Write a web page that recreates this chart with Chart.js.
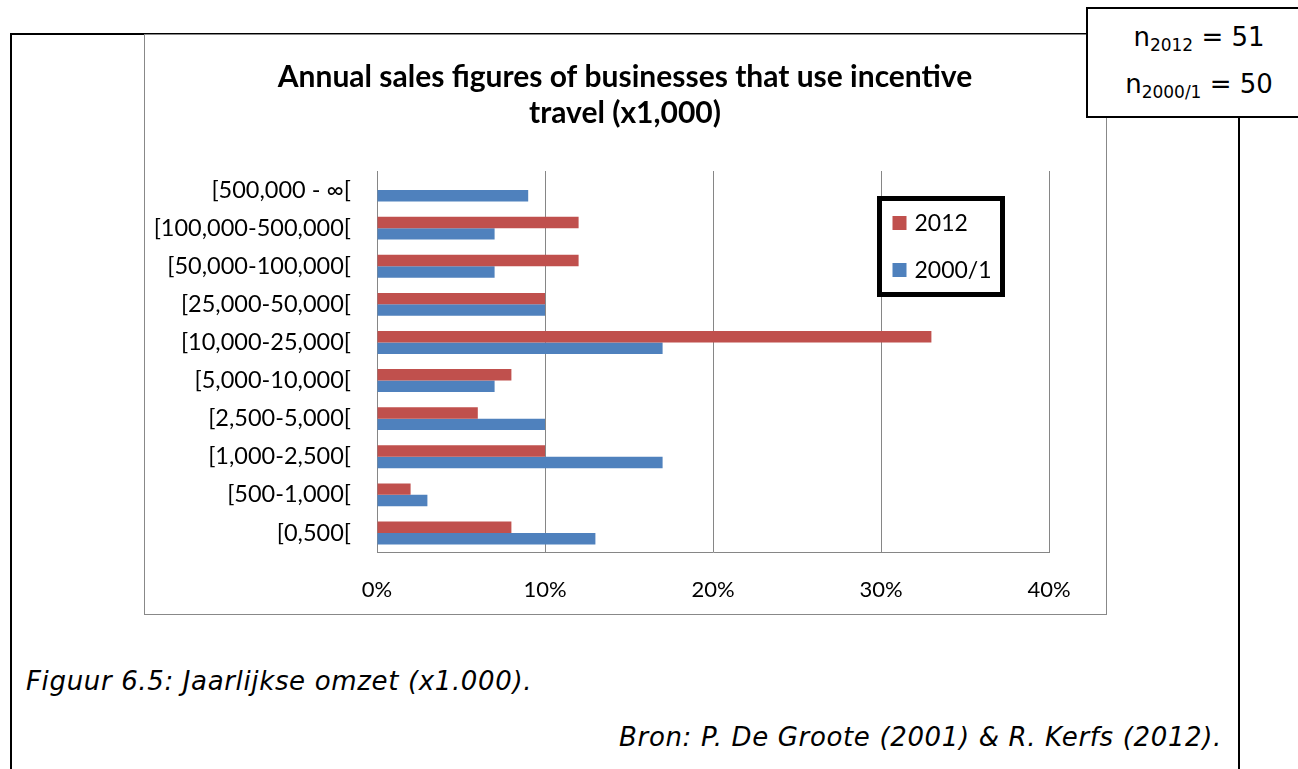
<!DOCTYPE html>
<html lang="en">
<head>
    <meta charset="UTF-8">
    <title>Annual sales figures</title>
    <script src="https://cdn.jsdelivr.net/npm/chart.js"></script>
    <style>
        body {
            margin: 0;
            width: 1298px;
            height: 769px;
            overflow: hidden;
            background: #fff;
            position: relative;
            font-family: 'DejaVu Sans', Verdana, sans-serif;
        }
        .frame {
            position: absolute;
            left: 10px;
            top: 33px;
            width: 1230px;
            height: 800px;
            border: 2px solid #000;
            box-sizing: border-box;
        }
        .chart-box {
            position: absolute;
            left: 144px;
            top: 34px;
            width: 963px;
            height: 581px;
            border: 1.5px solid #888;
            box-sizing: border-box;
            background: #fff;
        }
        .chart-box canvas {
            position: absolute;
            left: 0;
            top: 0;
        }
        .nbox {
            position: absolute;
            left: 1086px;
            top: 7px;
            width: 230px;
            height: 111px;
            border: 2px solid #000;
            box-sizing: border-box;
            background: #fff;
            font-size: 26px;
            color: #000;
        }
        .nbox div {
            position: absolute;
            left: 0;
            width: 222px;
            text-align: center;
        }
        .nbox sub {
            font-size: 17px;
            vertical-align: -5px;
        }
        .caption {
            position: absolute;
            font-style: italic;
            font-size: 26px;
            letter-spacing: 0.65px;
            color: #000;
            white-space: nowrap;
        }
    </style>
</head>
<body>
    <div class="frame"></div>
    <div class="chart-box">
        <canvas id="salesChart" width="960" height="578"></canvas>
    </div>
    <div class="nbox">
        <div style="top: 13px;">n<sub>2012</sub> = 51</div>
        <div style="top: 60px;">n<sub>2000/1</sub> = 50</div>
    </div>
    <div class="caption" style="left: 26px; top: 666px;">Figuur 6.5: Jaarlijkse omzet (x1.000).</div>
    <div class="caption" style="right: 76px; top: 722px;">Bron: P. De Groote (2001) &amp; R. Kerfs (2012).</div>

    <script>
        // turnover classes, top to bottom
        const categories = [
            '[500,000 - ∞[',
            '[100,000-500,000[',
            '[50,000-100,000[',
            '[25,000-50,000[',
            '[10,000-25,000[',
            '[5,000-10,000[',
            '[2,500-5,000[',
            '[1,000-2,500[',
            '[500-1,000[',
            '[0,500['
        ];
        // share of businesses (%)
        const values2012 = [0, 12, 12, 10, 33, 8, 6, 10, 2, 8];
        const values2000 = [9, 7, 7, 10, 17, 7, 10, 17, 3, 13];
        const xTicks = [0, 10, 20, 30, 40];

        const fontFamily = 'Lato, "Open Sans", sans-serif';

        // centre the title on the whole canvas, not just the padded area
        const fullWidthTitle = {
            id: 'fullWidthTitle',
            afterLayout(chart) {
                const t = chart.titleBlock;
                if (t) {
                    t.left = 0;
                    t.right = chart.width;
                    t.width = chart.width;
                }
            }
        };

        // legend box drawn inside the plot area, upper right
        const boxLegend = {
            id: 'boxLegend',
            afterDraw(chart) {
                const ctx = chart.ctx;
                const x = 734.5, y = 163.5, w = 123, h = 96;
                ctx.save();
                ctx.fillStyle = '#fff';
                ctx.fillRect(x, y, w, h);
                ctx.lineWidth = 5;
                ctx.strokeStyle = '#000';
                ctx.strokeRect(x, y, w, h);
                ctx.font = '23px ' + fontFamily;
                ctx.textBaseline = 'middle';
                chart.data.datasets.forEach((ds, i) => {
                    const cy = y + 24.5 + i * 47;
                    ctx.fillStyle = ds.backgroundColor;
                    ctx.fillRect(x + 13, cy - 7, 14, 14);
                    ctx.fillStyle = '#000';
                    ctx.fillText(ds.label, x + 35, cy + 1);
                });
                ctx.restore();
            }
        };

        new Chart(document.getElementById('salesChart'), {
            type: 'bar',
            data: {
                labels: categories,
                datasets: [
                    { label: '2012', data: values2012, backgroundColor: '#C0504D' },
                    { label: '2000/1', data: values2000, backgroundColor: '#4F81BD' }
                ]
            },
            options: {
                indexAxis: 'y',
                responsive: false,
                animation: false,
                categoryPercentage: 0.6,
                barPercentage: 1.0,
                layout: { padding: { left: 0, right: 56, top: 0, bottom: 0 } },
                scales: {
                    x: {
                        min: 0,
                        max: 40,
                        afterBuildTicks: scale => {
                            scale.ticks = xTicks.map(v => ({ value: v }));
                        },
                        afterFit: scale => { scale.height = 61; },
                        ticks: {
                            callback: v => v + '%',
                            font: { family: fontFamily, size: 22 },
                            color: '#000',
                            padding: 25
                        },
                        grid: { color: '#868686', lineWidth: 1, drawTicks: false },
                        border: { color: '#868686', width: 1 }
                    },
                    y: {
                        afterFit: scale => { scale.width = 232; },
                        ticks: {
                            font: { family: fontFamily, size: 23.5 },
                            color: '#000',
                            padding: 26
                        },
                        grid: { display: false, drawTicks: false },
                        border: { display: true, color: '#868686', width: 1 }
                    }
                },
                plugins: {
                    legend: { display: false },
                    tooltip: { enabled: false },
                    title: {
                        display: true,
                        text: ['Annual sales figures of businesses that use incentive', 'travel (x1,000)'],
                        color: '#000',
                        font: { family: fontFamily, size: 30, weight: 'bold', lineHeight: 1.2 },
                        padding: { top: 24, bottom: 40 }
                    }
                }
            },
            plugins: [fullWidthTitle, boxLegend]
        });
    </script>
</body>
</html>
